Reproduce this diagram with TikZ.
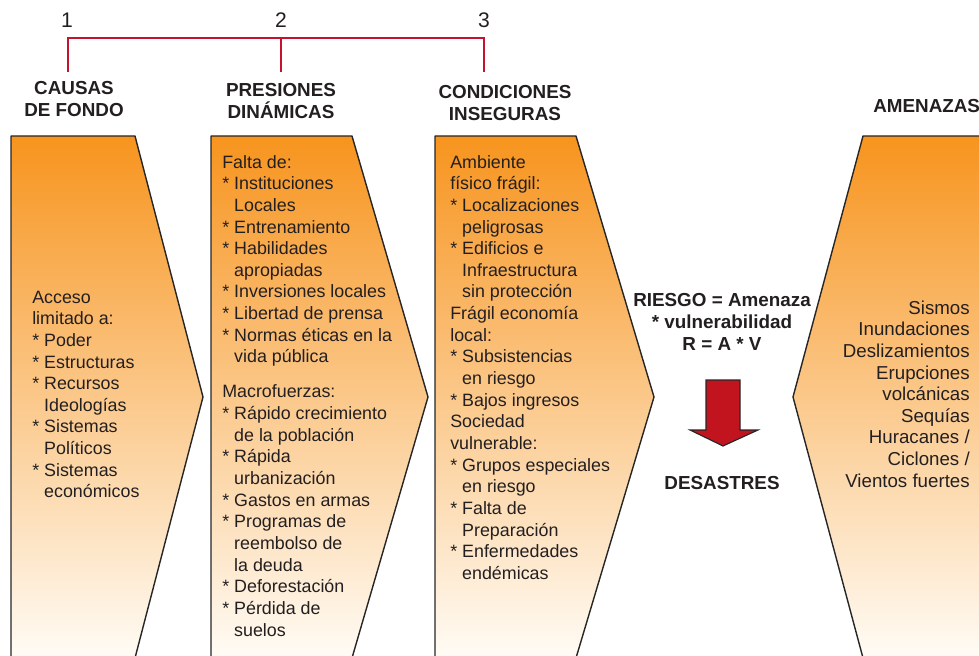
\documentclass[tikz,border=0pt]{standalone}
\usepackage{fontspec}
\setmainfont{Liberation Sans}
\usetikzlibrary{positioning}

\definecolor{naranja}{RGB}{247,148,30}
\definecolor{crema}{RGB}{255,252,246}
\definecolor{rojo}{RGB}{196,18,47}
\definecolor{texto}{RGB}{35,31,32}
\definecolor{flecha}{RGB}{193,20,30}
\newcommand{\sangria}{\hphantom{*\ }}

\begin{document}
\begin{tikzpicture}[x=0.025cm, y=-0.025cm,
	every node/.style={inner sep=0pt, text=texto},
	titulo/.style={font=\bfseries\fontsize{13.4}{15.5}\selectfont, align=center},
	numero/.style={font=\fontsize{15}{16}\selectfont},
	cuerpo/.style={font=\fontsize{12.7}{15.4}\selectfont, align=left, anchor=north west},
	caja/.style={top color=naranja, bottom color=crema},
	borde/.style={draw=black!85, line width=1pt, line join=round},
	corchete/.style={draw=rojo, line width=1.1pt}]
		\useasboundingbox (0,0) rectangle (979,656);
		
		% cajas
		\path[caja] (11,136) -- (135,136) -- (203,397) -- (135,658) -- (11,658) -- cycle;
		\draw[borde] (11,658) -- (11,136) -- (135,136) -- (203,397) -- (135,658);
		\path[caja] (211,136) -- (352,136) -- (428,397) -- (352,658) -- (211,658) -- cycle;
		\draw[borde] (211,658) -- (211,136) -- (352,136) -- (428,397) -- (352,658);
		\path[caja] (435,136) -- (576,136) -- (654,397) -- (576,658) -- (435,658) -- cycle;
		\draw[borde] (435,658) -- (435,136) -- (576,136) -- (654,397) -- (576,658);
		\path[caja] (990,136) -- (863,136) -- (793,397) -- (863,658) -- (990,658) -- cycle;
		\draw[borde] (990,136) -- (863,136) -- (793,397) -- (863,658);
		
		\node[numero] (n1) at (67,20) {1};
		\node[numero] (n2) at (281,20) {2};
		\node[numero] (n3) at (484,20) {3};
		
		\node[titulo] (causas) at (74,99) {CAUSAS\\DE FONDO};
		\node[titulo] (presiones) at (281,101) {PRESIONES\\DINÁMICAS};
		\node[titulo] (condiciones) at (505,103) {CONDICIONES\\INSEGURAS};
		\node[titulo, anchor=west] (amenazas) at (873,106) {AMENAZAS};
		
		\coordinate (p1) at (68,72);
		\coordinate (p2) at (281,72);
		\coordinate (p3) at (484,72);
		\coordinate (barra) at (0,38);
		\draw[corchete] (p1) -- (p1 |- barra) -- (p3 |- barra) -- (p3);
		\draw[corchete] (p2) -- (p2 |- barra);
		
		\node[cuerpo] (textocausas) at (32,287.6) {\strut Acceso\\limitado a:\\* Poder\\* Estructuras\\* Recursos\\\sangria Ideologías\\* Sistemas\\\sangria Políticos\\* Sistemas\\\sangria económicos};
		\node[cuerpo] (textopresiones) at (222,152.6) {\strut Falta de:\\* Instituciones\\\sangria Locales\\* Entrenamiento\\* Habilidades\\\sangria apropiadas\\* Inversiones locales\\* Libertad de prensa\\* Normas éticas en la\\\sangria vida pública\\[9.4pt]Macrofuerzas:\\* Rápido crecimiento\\\sangria de la población\\* Rápida\\\sangria urbanización\\* Gastos en armas\\* Programas de\\\sangria reembolso de\\\sangria la deuda\\* Deforestación\\* Pérdida de\\\sangria suelos};
		\node[cuerpo] (textocondiciones) at (450,152.6) {\strut Ambiente\\físico frágil:\\* Localizaciones\\\sangria peligrosas\\* Edificios e\\\sangria Infraestructura\\\sangria sin protección\\Frágil economía\\local:\\* Subsistencias\\\sangria en riesgo\\* Bajos ingresos\\Sociedad\\vulnerable:\\* Grupos especiales\\\sangria en riesgo\\* Falta de\\\sangria Preparación\\* Enfermedades\\\sangria endémicas};
		\node[cuerpo, font=\fontsize{13.3}{15.4}\selectfont, align=right, anchor=north east] (textoamenazas) at (970,298.6) {\strut Sismos\\Inundaciones\\Deslizamientos\\Erupciones\\volcánicas\\Sequías\\Huracanes /\\Ciclones /\\Vientos fuertes};
		
		\node[titulo] (riesgo) at (722,322) {RIESGO = Amenaza\\* vulnerabilidad\\R = A * V};
		\node[titulo] (desastres) at (722,483) {DESASTRES};
		
		% flecha
		\draw[fill=flecha, draw=black!85, line width=0.8pt, line join=miter] (706,380) -- (740,380) -- (740,430) -- (758,430) -- (723,446) -- (690,430) -- (706,430) -- cycle;
	\end{tikzpicture}
\end{document}
